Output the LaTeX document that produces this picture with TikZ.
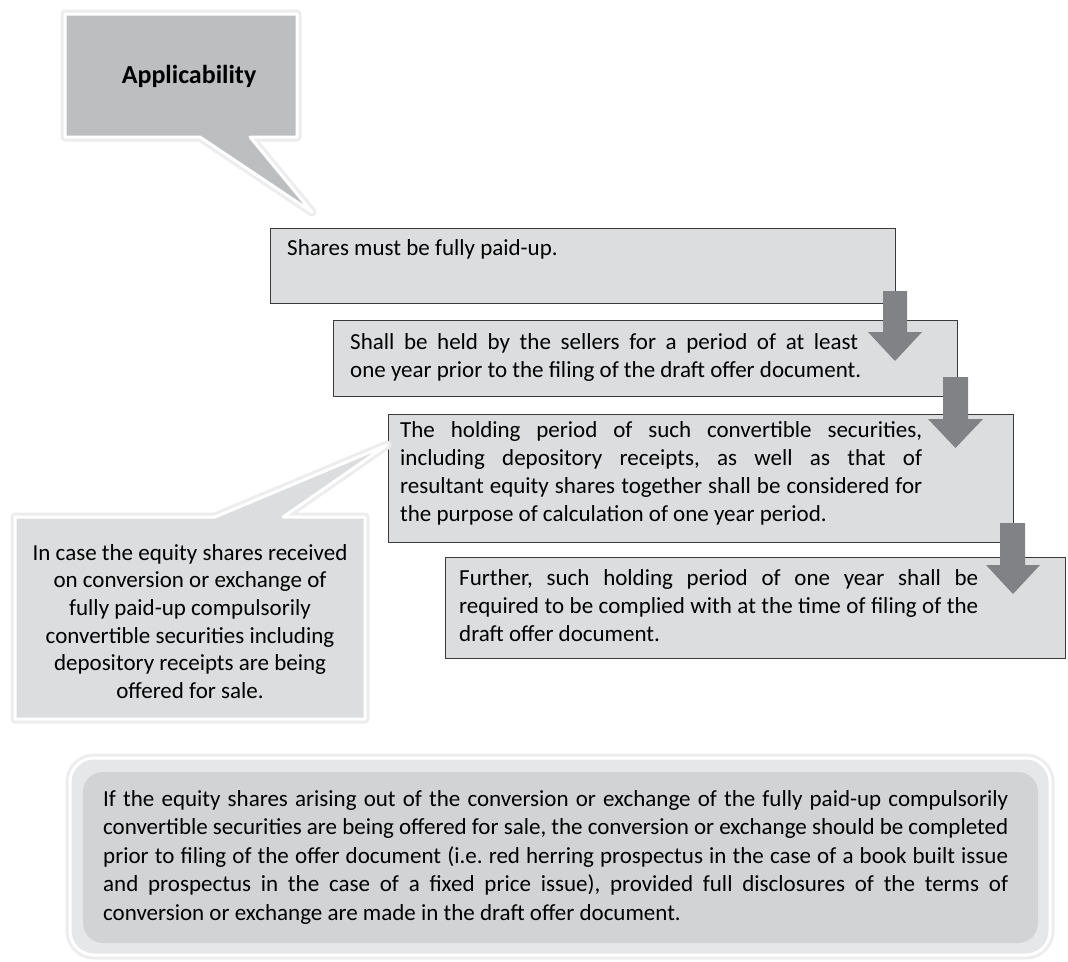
\documentclass[tikz,border=0pt]{standalone}
\usepackage{fontspec}
\setmainfont{Carlito}
\definecolor{calloutdark}{HTML}{BCBEC0}
\definecolor{boxfill}{HTML}{DCDDDE}
\definecolor{arrowgray}{HTML}{808285}
\definecolor{outerfill}{HTML}{E6E7E8}
\definecolor{innerfill}{HTML}{D1D3D4}
\definecolor{borderdark}{HTML}{3A3A3A}
\begin{document}
\frenchspacing
\begin{tikzpicture}[x=1pt,y=-1pt,
  glow/.style={draw=black!7,line width=9pt,line join=round},
  callout/.style={draw=white,line width=3pt,line join=round},
  stepbox/.style={fill=boxfill,draw=borderdark,line width=1.1pt,inner sep=0pt,anchor=north west},
  blockarrow/.style={fill=arrowgray,draw=none},
  txt/.style={inner sep=0pt,font=\fontsize{23}{28}\selectfont,align=left,anchor=west},
  ctxt/.style={inner sep=0pt,font=\fontsize{23}{27.7}\selectfont,align=center},
  btxt/.style={inner sep=0pt,font=\fontsize{23}{28.5}\selectfont,align=left,anchor=west}]
\useasboundingbox (0,0) rectangle (1068,961);
\fill[white] (0,0) rectangle (1068,961);

% Applicability callout
\path[glow] (65,14) -- (297,14) -- (297,137) -- (250,137) -- (312,212) -- (200,137) -- (65,137) -- cycle;
\path[callout,fill=calloutdark] (65,14) -- (297,14) -- (297,137) -- (250,137) -- (312,212) -- (200,137) -- (65,137) -- cycle;
\node[inner sep=0pt,font=\fontsize{26}{30}\selectfont\bfseries] (app) at (189,76) {Applicability};

% step boxes
\node[stepbox,minimum width=625pt,minimum height=75pt] (b1) at (270,228) {};
\node[stepbox,minimum width=624pt,minimum height=76pt] (b2) at (333,320) {};
\node[stepbox,minimum width=625pt,minimum height=128pt] (b3) at (388,414) {};
\node[stepbox,minimum width=620pt,minimum height=101pt] (b4) at (445,557) {};

\node[txt] (t1) at (287,249) {Shares must be fully paid-up.};
\node[txt] (t2) at (350,357) {\makebox[508pt][s]{Shall be held by the sellers for a period of at least}\\one year prior to the filing of the draft offer document.};
\node[txt] (t3) at (400,473) {\makebox[522pt][s]{The holding period of such convertible securities,}\\\makebox[522pt][s]{including depository receipts, as well as that of}\\\makebox[522pt][s]{resultant equity shares together shall be considered for}\\the purpose of calculation of one year period.};
\node[txt] (t4) at (459,606) {\makebox[519pt][s]{Further, such holding period of one year shall be}\\\makebox[519pt][s]{required to be complied with at the time of filing of the}\\draft offer document.};

% block arrows
\fill[blockarrow] (883,291) -- (907,291) -- (907,332) -- (922,332) -- (895,361) -- (868,332) -- (883,332) -- cycle;
\fill[blockarrow] (943,377) -- (968,377) -- (968,419) -- (983,419) -- (955.5,448) -- (928,419) -- (943,419) -- cycle;
\fill[blockarrow] (1000,523) -- (1025,523) -- (1025,565) -- (1040,565) -- (1013,594) -- (986,565) -- (1000,565) -- cycle;

% left callout
\path[glow] (15,517) -- (215,517) -- (387,445) -- (283,517) -- (365,517) -- (365,719) -- (15,719) -- cycle;
\path[callout,fill=boxfill] (15,517) -- (215,517) -- (387,445) -- (283,517) -- (365,517) -- (365,719) -- (15,719) -- cycle;
\node[ctxt] (lc) at (190,621.5) {In case the equity shares received\\on conversion or exchange of\\fully paid-up compulsorily\\convertible securities including\\depository receipts are being\\offered for sale.};

% bottom box
\draw[glow,rounded corners=24pt] (70,758) rectangle (1050,955);
\draw[draw=white,line width=3pt,fill=outerfill,rounded corners=24pt] (70,758) rectangle (1050,955);
\fill[innerfill,rounded corners=20pt] (83,772) rectangle (1038,943);
\node[btxt] (bt) at (103,857) {\makebox[905pt][s]{If the equity shares arising out of the conversion or exchange of the fully paid-up compulsorily}\\\makebox[905pt][s]{convertible securities are being offered for sale, the conversion or exchange should be completed}\\\makebox[905pt][s]{prior to filing of the offer document (i.e. red herring prospectus in the case of a book built issue}\\\makebox[905pt][s]{and prospectus in the case of a fixed price issue), provided full disclosures of the terms of}\\conversion or exchange are made in the draft offer document.};
\end{tikzpicture}
\end{document}
